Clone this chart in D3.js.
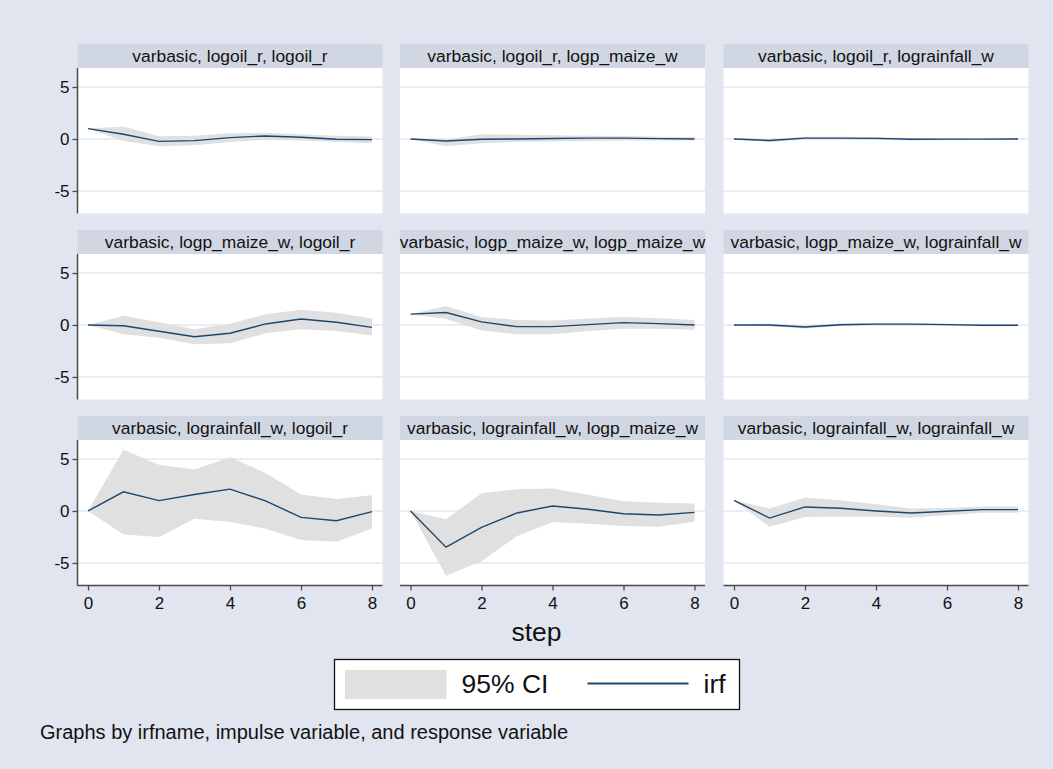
<!DOCTYPE html>
<html lang="en">
<meta charset="utf-8">
<title>IRF graphs</title>
<style>
    body { margin: 0; background: #e1e5f0; }
    text { font-family: "Liberation Sans", Arial, Helvetica, sans-serif; }
</style>
<body>
<svg id="canvas"></svg>

<script src="https://cdn.jsdelivr.net/npm/d3@7"></script>
<script>

    ////////////////////// Data ///////////////////////
    var steps = [0, 1, 2, 3, 4, 5, 6, 7, 8];
    var yTicks = [-5, 0, 5];
    var xTicks = [0, 2, 4, 6, 8];

    var panelTitles = [
        "varbasic, logoil_r, logoil_r",
        "varbasic, logoil_r, logp_maize_w",
        "varbasic, logoil_r, lograinfall_w",
        "varbasic, logp_maize_w, logoil_r",
        "varbasic, logp_maize_w, logp_maize_w",
        "varbasic, logp_maize_w, lograinfall_w",
        "varbasic, lograinfall_w, logoil_r",
        "varbasic, lograinfall_w, logp_maize_w",
        "varbasic, lograinfall_w, lograinfall_w"
    ];

    // impulse response, one row per panel
    var irf = [
        [1.0, 0.45, -0.23, -0.16, 0.13, 0.29, 0.16, -0.03, -0.06],
        [0, -0.2, -0.03, 0.0, 0.05, 0.08, 0.08, 0.03, 0.0],
        [0, -0.15, 0.08, 0.08, 0.06, -0.02, -0.01, -0.01, 0.0],
        [0, -0.07, -0.6, -1.13, -0.8, 0.1, 0.58, 0.26, -0.23],
        [1.04, 1.2, 0.3, -0.16, -0.16, 0.03, 0.23, 0.13, 0.0],
        [0, 0.0, -0.2, 0.02, 0.08, 0.08, 0.03, -0.03, -0.02],
        [0, 1.84, 1.0, 1.58, 2.1, 0.97, -0.61, -0.94, -0.06],
        [0, -3.48, -1.58, -0.19, 0.48, 0.16, -0.26, -0.39, -0.13],
        [1.03, -0.68, 0.39, 0.26, 0.0, -0.19, -0.03, 0.13, 0.13]
    ];

    // 95% CI lower bound
    var ciLower = [
        [1.0, -0.2, -0.7, -0.6, -0.3, -0.1, -0.15, -0.3, -0.4],
        [0, -0.7, -0.4, -0.3, -0.25, -0.2, -0.15, -0.15, -0.13],
        [0, -0.3, -0.08, -0.08, -0.08, -0.15, -0.12, -0.1, -0.1],
        [0, -0.9, -1.23, -1.85, -1.75, -0.8, -0.4, -0.58, -1.0],
        [1.04, 0.58, -0.52, -0.9, -0.9, -0.58, -0.36, -0.36, -0.45],
        [0, -0.12, -0.35, -0.1, -0.05, -0.05, -0.08, -0.12, -0.12],
        [0, -2.26, -2.5, -0.74, -1.06, -1.7, -2.8, -2.97, -1.68],
        [0, -6.23, -4.84, -2.42, -1.06, -1.23, -1.45, -1.52, -1.03],
        [1.03, -1.52, -0.58, -0.55, -0.55, -0.65, -0.42, -0.16, -0.16]
    ];

    // 95% CI upper bound
    var ciUpper = [
        [1.0, 1.2, 0.26, 0.3, 0.55, 0.6, 0.45, 0.3, 0.25],
        [0, -0.05, 0.45, 0.4, 0.35, 0.3, 0.28, 0.22, 0.2],
        [0, 0.0, 0.22, 0.22, 0.2, 0.1, 0.1, 0.08, 0.08],
        [0, 0.88, 0.26, -0.4, 0.13, 1.04, 1.46, 1.17, 0.62],
        [1.04, 1.82, 0.78, 0.49, 0.42, 0.62, 0.78, 0.65, 0.49],
        [0, 0.12, -0.05, 0.14, 0.2, 0.2, 0.15, 0.08, 0.08],
        [0, 5.9, 4.45, 4.0, 5.16, 3.65, 1.58, 1.16, 1.52],
        [0, -0.8, 1.7, 2.1, 2.16, 1.55, 0.94, 0.8, 0.71],
        [1.03, 0.23, 1.29, 1.03, 0.65, 0.23, 0.29, 0.42, 0.42]
    ];
    ///////////////////////////////////////////////////

    ///////// Position and Dimension Variables ////////
    var dimensions   = [1053, 769];
    var col_x        = [77.5, 400, 723.5];
    var row_y        = [44, 230, 416];
    var panel_width  = 305;
    var strip_height = 24;
    var plot_height  = 145.5;
    var x_pad        = 10.5;
    var y_domain     = [-7.17, 6.83];
    var center_x     = 536.5;
    ///////////////////////////////////////////////////

    ///////////////// Style Variables /////////////////
    var BG_color     = '#e1e5f0';
    var strip_color  = '#d1d7e2';
    var grid_color   = '#e3e8f0';
    var ci_color     = '#e0e0e0';
    var irf_color    = '#1a476f';
    var axis_color   = '#4a4a4a';
    var text_color   = '#111111';
    // font sizes
    var strip_font   = 17.4;
    var tick_font    = 17;
    var big_font     = 26.5;
    var note_font    = 20;
    ///////////////////////////////////////////////////

    var canvas = d3.select("#canvas")
        .attr('width',  dimensions[0])
        .attr('height', dimensions[1])
        .style('display', 'block')
        .style('background-color', BG_color);

    var x = d3.scaleLinear()
        .domain([0, 8])
        .range([x_pad, panel_width - x_pad]);
    var y = d3.scaleLinear()
        .domain(y_domain)
        .range([plot_height, 0]);

    var area = d3.area()
        .x(function (d) { return x(d.step); })
        .y0(function (d) { return y(d.lo); })
        .y1(function (d) { return y(d.hi); });
    var line = d3.line()
        .x(function (d) { return x(d.step); })
        .y(function (d) { return y(d.v); });

    // plain hyphen minus like the original
    var fmt = function (d) { return String(d); };

    ///////////////////// panels //////////////////////
    panelTitles.forEach(function (title, i) {
        var row = Math.floor(i / 3), col = i % 3;
        var g = canvas.append("g")
            .attr('transform', 'translate(' + col_x[col] + ',' + row_y[row] + ')');

        // title strip
        g.append("rect")
            .attr('width',  panel_width)
            .attr('height', strip_height)
            .attr('fill',   strip_color);
        g.append("text")
            .attr('x', panel_width / 2)
            .attr('y', strip_height / 2 + 6)
            .attr('text-anchor', 'middle')
            .attr('font-size', strip_font)
            .attr('fill', text_color)
            .text(title);

        var p = g.append("g")
            .attr('transform', 'translate(0,' + strip_height + ')');
        p.append("rect")
            .attr('width',  panel_width)
            .attr('height', plot_height)
            .attr('fill', 'white');

        // grid
        p.selectAll("line.grid").data(yTicks).enter().append("line")
            .attr('x1', 0).attr('x2', panel_width)
            .attr('y1', function (d) { return y(d); })
            .attr('y2', function (d) { return y(d); })
            .attr('stroke', grid_color)
            .attr('stroke-width', 1.6);

        var pts = steps.map(function (s, k) {
            return { step: s, v: irf[i][k], lo: ciLower[i][k], hi: ciUpper[i][k] };
        });
        p.append("path")
            .datum(pts)
            .attr('d', area)
            .attr('fill', ci_color);
        p.append("path")
            .datum(pts)
            .attr('d', line)
            .attr('fill', 'none')
            .attr('stroke', irf_color)
            .attr('stroke-width', 1.4);

        // y axis on first column
        if (col === 0) {
            var ya = p.append("g")
                .call(d3.axisLeft(y).tickValues(yTicks).tickSize(5).tickPadding(3)
                    .tickFormat(fmt));
            ya.select(".domain").remove();
            ya.append("line")
                .attr('x1', 0).attr('x2', 0)
                .attr('y1', 0).attr('y2', plot_height)
                .attr('stroke', axis_color)
                .attr('stroke-width', 1.5);
            ya.selectAll(".tick line").attr('stroke', axis_color).attr('stroke-width', 1.3);
            ya.selectAll(".tick text")
                .attr('font-size', tick_font)
                .attr('fill', text_color)
                .style('font-family', '"Liberation Sans", Arial, sans-serif');
        }

        // x axis on last row
        if (row === 2) {
            var xa = p.append("g")
                .attr('transform', 'translate(0,' + plot_height + ')')
                .call(d3.axisBottom(x).tickValues(xTicks).tickSize(5).tickPadding(6)
                    .tickFormat(fmt));
            xa.select(".domain").remove();
            xa.append("line")
                .attr('x1', 0).attr('x2', panel_width)
                .attr('stroke', axis_color)
                .attr('stroke-width', 1.5);
            xa.selectAll(".tick line").attr('stroke', axis_color).attr('stroke-width', 1.3);
            xa.selectAll(".tick text")
                .attr('font-size', tick_font)
                .attr('fill', text_color)
                .style('font-family', '"Liberation Sans", Arial, sans-serif');
        }
    });
    ///////////////////////////////////////////////////

    //////////////////// x title //////////////////////
    canvas.append("text")
        .attr('x', center_x)
        .attr('y', 641)
        .attr('text-anchor', 'middle')
        .attr('font-size', big_font)
        .attr('fill', text_color)
        .text("step");
    ///////////////////////////////////////////////////

    ///////////////////// legend //////////////////////
    var legend = canvas.append("g").attr('transform', 'translate(334.5,659.5)');
    legend.append("rect")
        .attr('width', 405).attr('height', 50)
        .attr('fill', 'white')
        .attr('stroke', '#111')
        .attr('stroke-width', 1.3);
    legend.append("rect")
        .attr('x', 10.5).attr('y', 10.5)
        .attr('width', 101.5).attr('height', 29)
        .attr('fill', ci_color);
    legend.append("text")
        .attr('x', 127).attr('y', 33.5)
        .attr('font-size', big_font)
        .attr('fill', text_color)
        .text("95% CI");
    legend.append("line")
        .attr('x1', 253).attr('x2', 354)
        .attr('y1', 24).attr('y2', 24)
        .attr('stroke', irf_color)
        .attr('stroke-width', 2);
    legend.append("text")
        .attr('x', 369).attr('y', 33.5)
        .attr('font-size', big_font)
        .attr('fill', text_color)
        .text("irf");
    ///////////////////////////////////////////////////

    ////////////////////// note ///////////////////////
    canvas.append("text")
        .attr('x', 40)
        .attr('y', 739)
        .attr('font-size', note_font)
        .attr('fill', text_color)
        .text("Graphs by irfname, impulse variable, and response variable");
    ///////////////////////////////////////////////////

</script>
</body>
</html>
